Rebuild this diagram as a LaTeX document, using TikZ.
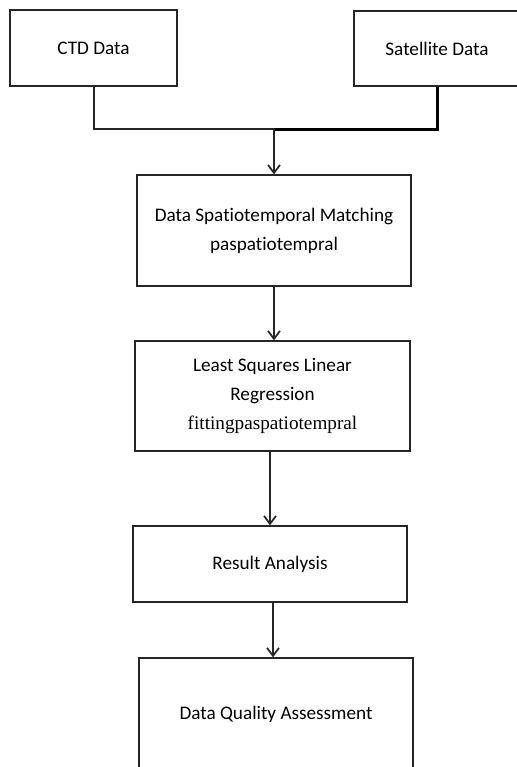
\documentclass[tikz,border=0pt]{standalone}
\usepackage{fontspec}
\setmainfont[Ligatures={NoCommon}]{Carlito}
\newfontfamily\serifx{Liberation Serif}
\usetikzlibrary{arrows.meta}
\definecolor{ink}{HTML}{262626}
\tikzset{
  box/.style={draw=ink, line width=1.3pt*0.75, rectangle, inner sep=0pt, align=center,
    font=\fontsize{14.4pt}{21.8pt}\selectfont, text=black},
  conn/.style={draw=ink, line width=2pt*0.75},
  arr/.style={conn, -{Straight Barb[length=6pt, width=9pt, line width=1.3pt]}},
}
\begin{document}
\begin{tikzpicture}[x=0.75pt, y=-0.75pt]
\useasboundingbox (0,0) rectangle (517,767);
\node[box, minimum width=167*0.75pt, minimum height=76*0.75pt] (ctd) at (93.5,48) {CTD Data};
\node[box, minimum width=166*0.75pt, minimum height=75*0.75pt] (sat) at (437,48.5) {Satellite Data};
\node[box, minimum width=274*0.75pt, minimum height=111*0.75pt] (match) at (274,230.5)
  {Data Spatiotemporal Matching\\paspatiotempral};
\node[box, minimum width=275*0.75pt, minimum height=110*0.75pt] (lsq) at (272.5,396)
  {Least Squares Linear\\Regression\\{\serifx fittingpaspatiotempral}};
\node[box, minimum width=274*0.75pt, minimum height=76*0.75pt] (res) at (270,564) {Result Analysis};
\node[box, minimum width=274*0.75pt, minimum height=112*0.75pt] (dqa) at (276,714) {Data Quality Assessment};
\coordinate (j) at (274,129);
\draw[conn] (ctd.south) |- (j);
\draw[conn, line width=3pt*0.75, draw=black] (sat.south) |- (j);
\draw[arr] (j) -- (match.north);
\draw[arr] (match.south) -- (match.south |- lsq.north);
\draw[arr] (lsq.south -| res.north) -- (res.north);
\draw[arr] ([xshift=2.25pt]res.south) -- ([xshift=2.25pt]res.south |- dqa.north);
\end{tikzpicture}
\end{document}
